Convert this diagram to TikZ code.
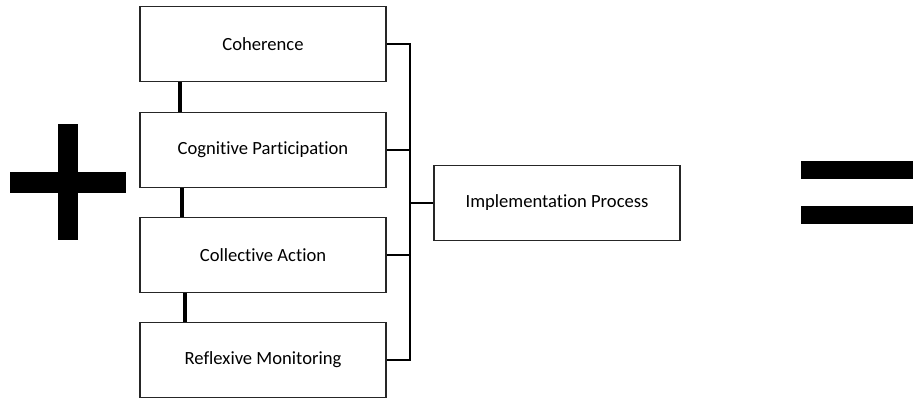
\documentclass[tikz,border=0pt]{standalone}
\usepackage{fontspec}
\setmainfont[Ligatures={NoCommon}]{Carlito}
\usetikzlibrary{positioning, calc}

\tikzset{
    stage/.style={draw=black!85, line width=1.4pt, minimum width=246pt, minimum height=75pt, inner sep=0pt, font=\fontsize{18.6}{22}\selectfont},
    busline/.style={line width=2.8pt},
    thinline/.style={line width=1.4pt},
    link/.style={line width=3.8pt},
}

\begin{document}
\begin{tikzpicture}[x=1pt, y=-1pt]
    \useasboundingbox (0,0) rectangle (913,399);

    \node[stage] (coh) at (263,44) {Coherence};
    \node[stage] (cog) at (263,150) {Cognitive Participation};
    \node[stage] (coll) at (263,255) {Collective Action};
    \node[stage] (refl) at (263,360) {Reflexive Monitoring};
    \node[stage] (impl) at (557,203) {Implementation Process};

    \coordinate (bus) at (410,44);

    \draw[busline] (coh.east) -- (bus) |- (refl.east);
    \draw[thinline] (cog.east) -- (cog.east -| bus);
    \draw[thinline] (coll.east) -- (coll.east -| bus);
    \draw[busline] (bus |- impl.west) -- (impl.west);

    \draw[link] ([xshift=41pt]coh.south west) -- ([xshift=41pt]cog.north west);
    \draw[link] ([xshift=43pt]cog.south west) -- ([xshift=43pt]coll.north west);
    \draw[link] ([xshift=46pt]coll.south west) -- ([xshift=46pt]refl.north west);

    % plus
    \fill (10,172) rectangle (126,193);
    \fill (58,124) rectangle (78,240);

    % equals
    \fill (801,161) rectangle (913,179);
    \fill (801,206) rectangle (913,224);
\end{tikzpicture}
\end{document}
